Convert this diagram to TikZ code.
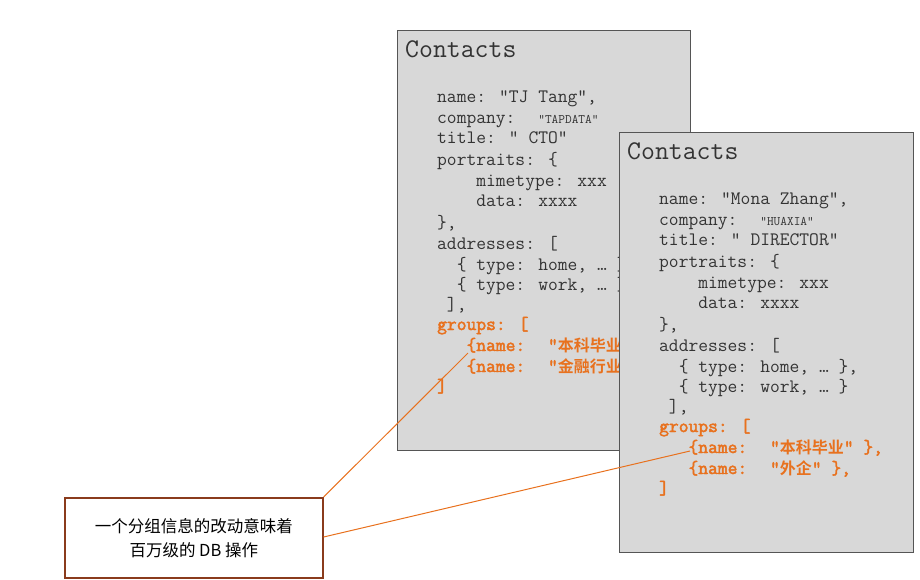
\documentclass[tikz,border=0pt]{standalone}
\usepackage{fontspec}
\newfontfamily\cjk{Noto Sans CJK SC}
\newfontfamily\cjkb{Noto Sans CJK SC Bold}
\newfontfamily\ttbold[FakeBold=2.5]{Latin Modern Mono}
\begin{document}
\definecolor{boxfill}{HTML}{D8D8D8}
\definecolor{boxline}{HTML}{555555}
\definecolor{org}{HTML}{E8711E}
\definecolor{brn}{HTML}{8A3B1C}
\newcommand\smallco[1]{{\fontsize{13}{14}\selectfont #1}}
\newcommand\zh[1]{{\cjkb\fontsize{16}{18}\selectfont #1}}
\begin{tikzpicture}[x=1pt,y=-1pt,
  card/.style={draw=boxline,line width=1.2pt,fill=boxfill},
  code/.style={anchor=base west,inner sep=0pt,font=\ttfamily\fontsize{19}{20}\selectfont,text=black!80},
  grp/.style={code,text=org,font=\ttbold\fontsize{19}{20}\selectfont},
  ttl/.style={anchor=base west,inner sep=0pt,font=\ttfamily\fontsize{27}{28}\selectfont,text=black!80},
  callout/.style={draw=brn,line width=1.6pt,fill=white},
  link/.style={draw=org,line width=1pt}]
\useasboundingbox (0,0) rectangle (920,579);
% card 1
\node[card,minimum width=293pt,minimum height=420pt,anchor=north west,inner sep=0pt] (c1) at (397,30) {};
\node[ttl] (t1) at (405,57) {Contacts};
\node[code] (a1) at (437,102) {name: "TJ Tang",};
\node[code] (a2) at (437,123) {company: \ \smallco{”TAPDATA"}};
\node[code] (a3) at (437,143) {title: " CTO"};
\node[code] (a4) at (437,165) {portraits: \{};
\node[code] (a5) at (437,186) {\ \ \ \ mimetype: xxx};
\node[code] (a6) at (437,206) {\ \ \ \ data: xxxx};
\node[code] (a7) at (437,228) {\},};
\node[code] (a8) at (437,249) {addresses: [};
\node[code] (a9) at (437,270) {\ \ \{ type: home, … \},};
\node[code] (a10) at (437,290) {\ \ \{ type: work, … \}};
\node[code] (a11) at (437,310) {\ ],};
\node[grp] (a12) at (437,330) {groups: [};
\node[grp] (a13) at (437,351) {\ \ \ \{name: \ ”\zh{本科毕业}” \},};
\node[grp] (a14) at (437,372) {\ \ \ \{name: \ ”\zh{金融行业}” \},};
\node[grp] (a15) at (437,392) {]};
\coordinate (p1) at (468,353);
% card 2
\node[card,minimum width=294pt,minimum height=420pt,anchor=north west,inner sep=0pt] (c2) at (619,132) {};
\node[ttl] (t2) at (627,159) {Contacts};
\node[code] (b1) at (659,204) {name: ”Mona Zhang",};
\node[code] (b2) at (659,225) {company: \ \smallco{”HUAXIA"}};
\node[code] (b3) at (659,245) {title: “ DIRECTOR"};
\node[code] (b4) at (659,267) {portraits: \{};
\node[code] (b5) at (659,288) {\ \ \ \ mimetype: xxx};
\node[code] (b6) at (659,308) {\ \ \ \ data: xxxx};
\node[code] (b7) at (659,330) {\},};
\node[code] (b8) at (659,351) {addresses: [};
\node[code] (b9) at (659,372) {\ \ \{ type: home, … \},};
\node[code] (b10) at (659,392) {\ \ \{ type: work, … \}};
\node[code] (b11) at (659,412) {\ ],};
\node[grp] (b12) at (659,432) {groups: [};
\node[grp] (b13) at (659,453) {\ \ \ \{name: \ ”\zh{本科毕业}” \},};
\node[grp] (b14) at (659,474) {\ \ \ \{name: \ ”\zh{外企}” \},};
\node[grp] (b15) at (659,494) {]};
\coordinate (p2) at (690,451);
% callout
\node[callout,minimum width=258pt,minimum height=80pt,anchor=north west,inner sep=0pt] (co) at (64,497) {};
\node[align=center,font=\cjk\fontsize{16.5}{24}\selectfont] (ct) at (co.center) {一个分组信息的改动意味着\\百万级的 DB 操作};
\draw[link] (co.north east) -- (p1);
\draw[link] ([yshift=-40pt]co.north east) -- (p2);
\end{tikzpicture}
\end{document}
